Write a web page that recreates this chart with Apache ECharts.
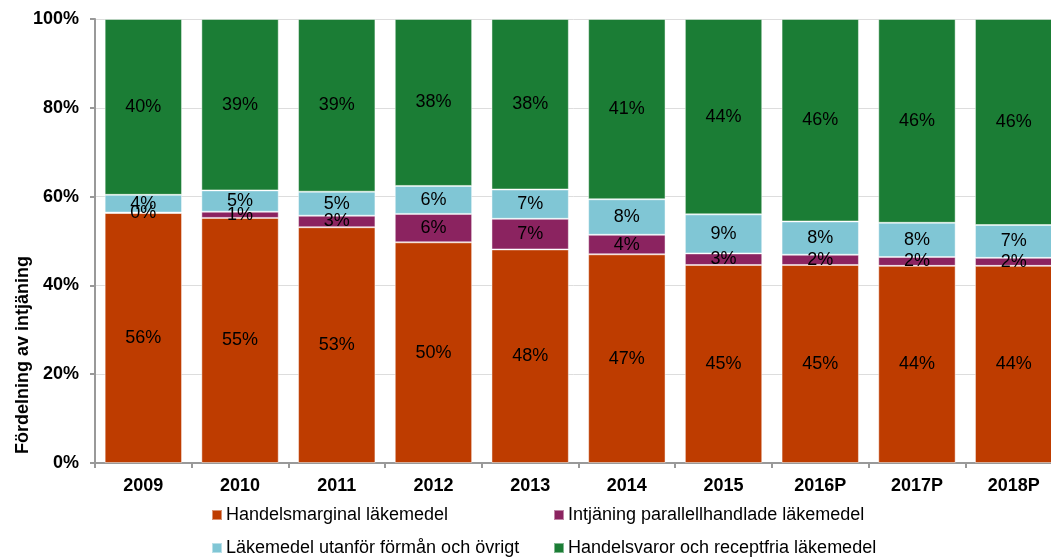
<!DOCTYPE html>
<html>
<head>
<meta charset="utf-8">
<script src="https://cdn.jsdelivr.net/npm/echarts@6/dist/echarts.min.js"></script>
<style>
  html, body { margin: 0; padding: 0; background: #fff; }
  #chart { width: 1051px; height: 558px; }
</style>
</head>
<body>
<div id="chart"></div>
<script>
// Andel av intjäning per år (%)
const years = ['2009', '2010', '2011', '2012', '2013', '2014', '2015', '2016P', '2017P', '2018P']
const handelsmarginal = [56.3, 55.2, 53.1, 49.7, 48.1, 47.0, 44.6, 44.6, 44.4, 44.4]
const parallellhandel = [0.1, 1.4, 2.6, 6.4, 6.9, 4.4, 2.6, 2.3, 2.0, 1.8]
const utanforForman = [4.0, 4.8, 5.4, 6.3, 6.6, 8.0, 8.8, 7.5, 7.7, 7.4]
const handelsvaror = [39.6, 38.6, 38.9, 37.6, 38.4, 40.6, 44.0, 45.6, 45.9, 46.4]
const yTicks = [0, 20, 40, 60, 80, 100]

const names = [
  'Handelsmarginal läkemedel',
  'Intjäning parallellhandlade läkemedel',
  'Läkemedel utanför förmån och övrigt',
  'Handelsvaror och receptfria läkemedel'
]
const colors = ['#BE3C00', '#8B2360', '#80C6D5', '#1B7D35']
const seriesData = [handelsmarginal, parallellhandel, utanforForman, handelsvaror]
// legend positions: [left, top]
const legendPos = [[211, 506], [553, 506], [211, 539], [553, 539]]

const font = 'Liberation Sans, Arial'
const chart = echarts.init(document.getElementById('chart'))

const series = seriesData.map((d, i) => ({
  name: names[i],
  type: 'bar',
  stack: 'total',
  data: d,
  barCategoryGap: '20%',
  itemStyle: {
    color: colors[i],
    borderColor: 'rgba(255,255,255,0.45)',
    borderWidth: 1
  },
  label: {
    show: true,
    position: 'inside',
    formatter: p => Math.round(p.value) + '%',
    color: '#000',
    fontFamily: font,
    fontSize: 18
  },
  animation: false
}))

const legends = names.map((n, i) => ({
  left: legendPos[i][0],
  top: legendPos[i][1],
  itemWidth: 10,
  itemHeight: 10,
  icon: 'rect',
  padding: 0,
  textStyle: {
    fontFamily: font,
    fontSize: 18,
    color: '#000',
    padding: [0, 0, 0, -1]
  },
  data: [n]
}))

const option = {
  backgroundColor: '#fff',
  grid: {
    left: 95,
    width: 967,
    top: 19,
    bottom: 95,
    outerBoundsMode: 'none'
  },
  legend: legends,
  xAxis: {
    type: 'category',
    data: years,
    axisLine: { lineStyle: { color: '#999', width: 2 } },
    axisTick: { show: true, length: 5, lineStyle: { color: '#999', width: 2 } },
    axisLabel: {
      color: '#000',
      fontWeight: 'bold',
      fontSize: 18,
      fontFamily: font,
      margin: 14
    }
  },
  yAxis: {
    type: 'value',
    min: yTicks[0],
    max: yTicks[yTicks.length - 1],
    interval: 20,
    name: 'Fördelning av intjäning',
    nameLocation: 'middle',
    nameGap: 63,
    nameMoveOverlap: false,
    nameTextStyle: {
      color: '#000',
      fontWeight: 'bold',
      fontSize: 18,
      fontFamily: font,
      padding: [0, 228, 0, 0]
    },
    axisLine: { show: true, lineStyle: { color: '#999', width: 2 } },
    axisTick: { show: true, length: 5, lineStyle: { color: '#999', width: 2 } },
    axisLabel: {
      formatter: '{value}%',
      color: '#000',
      fontWeight: 'bold',
      fontSize: 18,
      fontFamily: font,
      margin: 16
    },
    splitLine: { lineStyle: { color: '#ddd', width: 1 } }
  },
  series: series
}

chart.setOption(option)
</script>
</body>
</html>
